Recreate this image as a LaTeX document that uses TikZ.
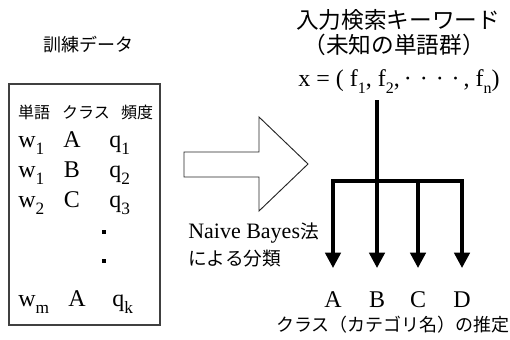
\documentclass[tikz,border=0pt]{standalone}
\usepackage{fontspec}
\setmainfont{Liberation Serif}
\newfontfamily\jp{Noto Sans CJK JP}
\usetikzlibrary{arrows.meta}
\newcommand\lsb[1]{\raisebox{-0.3em}{\fontsize{13}{13}\selectfont #1}}
\newcommand\ssb[1]{\raisebox{-0.3em}{\fontsize{12}{12}\selectfont #1}}
\begin{document}
\begin{tikzpicture}[x=0.75pt,y=-0.75pt,
  jtitle/.style={font=\jp\fontsize{17}{19}\selectfont, inner sep=0},
  jmid/.style={font=\jp\fontsize{13.5}{16}\selectfont, inner sep=0},
  jhead/.style={font=\jp\fontsize{12}{14}\selectfont, inner sep=0, anchor=base},
  ltr/.style={font=\fontsize{16.5}{18}\selectfont, inner sep=0},
  big/.style={font=\fontsize{18}{20}\selectfont, inner sep=0},
  cell/.style={big, anchor=base},
  cellw/.style={big, anchor=base west},
  thinline/.style={draw=black!75, line width=0.8pt},
  tip/.tip={Triangle[width=11.5pt,length=11.5pt]},
  thickarrow/.style={line width=2.6pt, line join=miter, -tip},
  thickline/.style={line width=2.6pt, line join=miter},
  dot/.style={fill=black}
]
\useasboundingbox (0,0) rectangle (510,339);

% left: training data
\node[jmid] (train) at (88,45) {訓練データ};
\draw[thinline] (9,84) rectangle (160,325);
\node[jhead] (h1) at (34,118) {単語};
\node[jhead] (h2) at (86,118) {クラス};
\node[jhead] (h3) at (137,118) {頻度};

\node[cellw] (w1) at (18,147) {w\lsb{1}};
\node[cell]  (c1) at (72,147) {A};
\node[cellw] (q1) at (109,147) {q\lsb{1}};
\node[cellw] (w2) at (18,177) {w\lsb{1}};
\node[cell]  (c2) at (72,177) {B};
\node[cellw] (q2) at (109,177) {q\lsb{2}};
\node[cellw] (w3) at (18,207) {w\lsb{2}};
\node[cell]  (c3) at (72,207) {C};
\node[cellw] (q3) at (109,207) {q\lsb{3}};
\fill[dot] (102,230) rectangle (106,234);
\fill[dot] (102,259) rectangle (106,263);
\node[cellw] (w4) at (18,306) {w\lsb{m}};
\node[cell]  (c4) at (77,306) {A};
\node[cellw] (q4) at (112,306) {q\lsb{k}};

% hollow arrow
\draw[line width=0.7pt, draw=black!85, line join=miter]
  (184,152) -- (259,152) -- (259,117) -- (308,164) -- (259,211) -- (259,177) -- (184,177) -- cycle;
\node[ltr, anchor=base west] (nb1) at (188,238) {Naive Bayes{\jp\fontsize{14}{16}\selectfont 法}};
\node[anchor=base west, inner sep=0, font=\jp\fontsize{14}{16}\selectfont] (nb2) at (188,265) {による分類};

% right side
\node[jtitle] (kw) at (398,20) {入力検索キーワード};
\node[jtitle] (kw2) at (394,45) {（未知の単語群）};
\node[big, anchor=base] (xvec) at (399,86) {x = ( f\ssb{1}, f\ssb{2},\,·\,\,·\,\,·\,\,·\,, f\ssb{n})};

\coordinate (top) at (377,100);
\coordinate (jA) at (333,181);
\coordinate (jB) at (377,181);
\coordinate (jC) at (418,181);
\coordinate (jD) at (462,181);
\coordinate (eA) at (333,268);
\coordinate (eB) at (377,268);
\coordinate (eC) at (418,268);
\coordinate (eD) at (462,268);

\draw[thickline, tip-tip] (eA) -- (jA) -- (jD) -- (eD);
\draw[thickarrow] (top) -- (eB);
\draw[thickarrow] (jC) -- (eC);

\node[cell] (A) at (333,307) {A};
\node[cell] (B) at (377,307) {B};
\node[cell] (C) at (418,307) {C};
\node[cell] (D) at (462,307) {D};
\node[jmid] (est) at (393,325) {クラス（カテゴリ名）の推定};
\end{tikzpicture}
\end{document}
